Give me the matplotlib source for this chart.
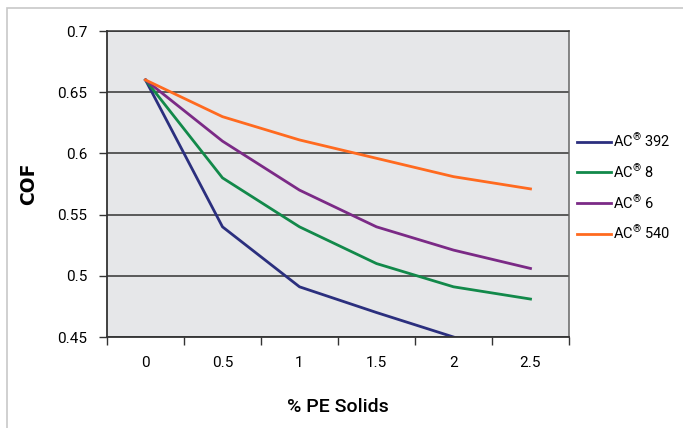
import matplotlib.pyplot as plt
from matplotlib.patches import Rectangle

categories = ['0', '0.5', '1', '1.5', '2', '2.5']
ac392 = [0.66, 0.54, 0.491, 0.47, 0.45, 0.43]
ac8 = [0.66, 0.58, 0.54, 0.51, 0.491, 0.481]
ac6 = [0.66, 0.61, 0.57, 0.54, 0.521, 0.506]
ac540 = [0.66, 0.63, 0.611, 0.596, 0.581, 0.571]
names = ['AC$^{®}$ 392', 'AC$^{®}$ 8', 'AC$^{®}$ 6', 'AC$^{®}$ 540']
colors = ['#2b2f7e', '#12894a', '#7b2a86', '#ff6a1f']

plt.rcParams['font.family'] = ['Roboto', 'DejaVu Sans']
plt.rcParams['mathtext.fontset'] = 'custom'
plt.rcParams['mathtext.rm'] = 'Roboto'
plt.rcParams['mathtext.default'] = 'regular'

fig = plt.figure(figsize=(6.83, 4.28), dpi=100)
fig.patches.append(Rectangle((7 / 683, -0.1), 1.1, (428 - 8) / 428 + 0.1,
                             transform=fig.transFigure, fill=False,
                             edgecolor='#c8c8c8', linewidth=1.2))
ax = fig.add_axes([107 / 683, (428 - 337) / 428, 462 / 683, 306 / 428])
ax.set_facecolor('#e6e7e9')

x = list(range(len(categories)))
for vals, name, c in zip([ac392, ac8, ac6, ac540], names, colors):
    ax.plot(x, vals, color=c, linewidth=2.0, label=name)

ax.set_xlim(-0.5, 5.5)
ax.set_ylim(0.45, 0.7)
ax.set_yticks([0.45, 0.5, 0.55, 0.6, 0.65, 0.7])
ax.set_yticklabels(['0.45', '0.5', '0.55', '0.6', '0.65', '0.7'])
ax.yaxis.grid(True, color='#333333', linewidth=1.1)
ax.set_axisbelow(True)

ax.set_xticks([i - 0.5 for i in range(len(categories) + 1)])
ax.set_xticklabels([])
ax.set_xticks(x, minor=True)
ax.set_xticklabels(categories, minor=True)
ax.tick_params(axis='x', which='major', length=6, width=1, color='#333333')
ax.tick_params(axis='x', which='minor', length=0, pad=14, labelsize=11)
ax.tick_params(axis='y', length=6, width=1, color='#333333', labelsize=11, pad=8)

for s in ['left', 'bottom']:
    ax.spines[s].set_color('#333333')
    ax.spines[s].set_linewidth(1.3)
ax.spines['top'].set_color('#333333')
ax.spines['top'].set_linewidth(1.1)
ax.spines['right'].set_color('#666666')
ax.spines['right'].set_linewidth(1.1)

ax.set_xlabel('% PE Solids', fontsize=14, fontweight='medium', labelpad=20)
ax.set_ylabel('COF', family='DejaVu Sans', fontsize=13.5, fontweight='bold', labelpad=14)

fig.legend(loc='upper left', bbox_to_anchor=(577 / 683, (428 - 132) / 428),
           bbox_transform=fig.transFigure, frameon=False, borderpad=0,
           borderaxespad=0, fontsize=10.5, handlelength=2.3, handletextpad=0.2,
           labelspacing=0.9)

plt.savefig('out.png', dpi=100)
